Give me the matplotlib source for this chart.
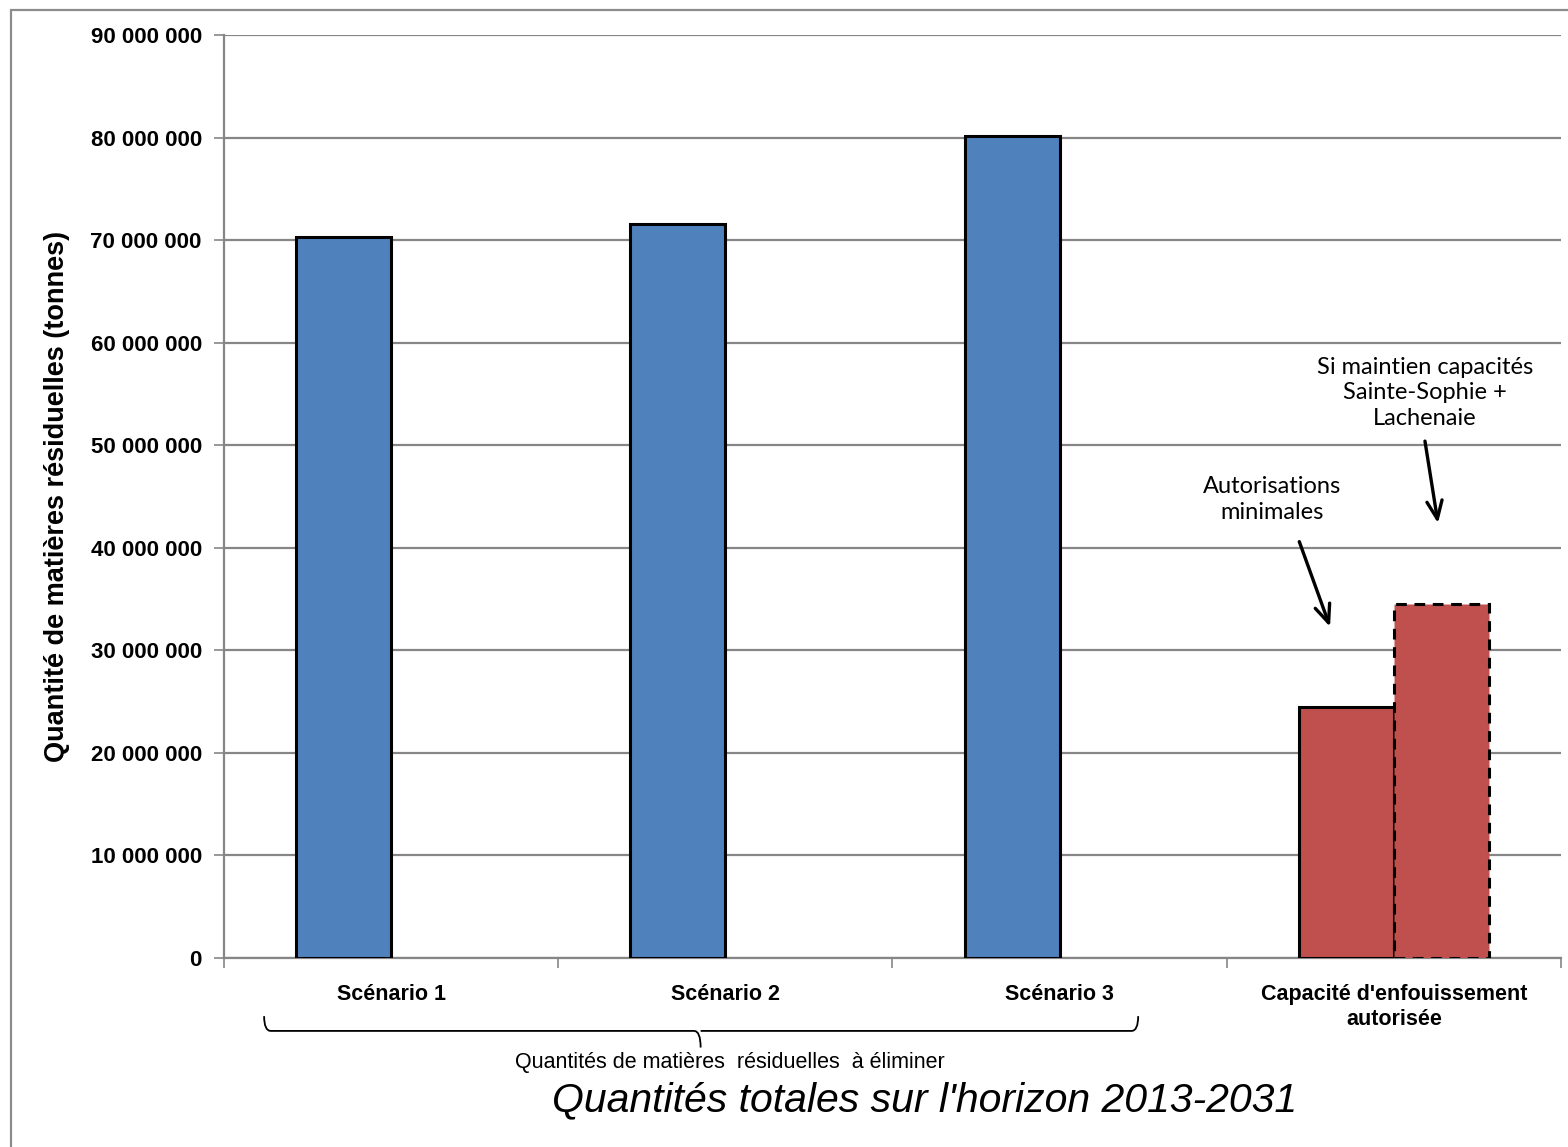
import matplotlib

matplotlib.use("Agg")
import matplotlib.pyplot as plt  # noqa: E402
from matplotlib.patches import Rectangle  # noqa: E402
from matplotlib.path import Path  # noqa: E402
from matplotlib.patches import PathPatch  # noqa: E402
import matplotlib.transforms as mtransforms  # noqa: E402
import numpy as np  # noqa: E402

# Values (tonnes, total 2013-2031)
categories = ["Scénario 1", "Scénario 2", "Scénario 3",
              "Capacité d'enfouissement\nautorisée"]
series_main = [70.3e6, 71.6e6, 80.2e6, 24.5e6]    # solid outline
series_extra = [np.nan, np.nan, np.nan, 34.5e6]   # dashed outline (maintien capacités)
bar_colors = ["#4F81BD", "#4F81BD", "#4F81BD", "#C0504D"]
extra_color = "#C0504D"

yticks = np.arange(0, 90e6 + 1, 10e6)

ylabel = "Quantité de matières résiduelles (tonnes)"
brace_label = "Quantités de matières  résiduelles  à éliminer"
title = "Quantités totales sur l'horizon 2013-2031"
note_min = "Autorisations\nminimales"
note_max = "Si maintien capacités\nSainte-Sophie +\nLachenaie"

GRID = "#868686"
W = 0.284  # bar width as a fraction of one category slot

fig = plt.figure(figsize=(15.68, 11.47), dpi=100)
ax = fig.add_axes([224 / 1568, 1 - 958 / 1147, (1561 - 224) / 1568, (958 - 35) / 1147])

x = np.arange(len(categories))
ax.bar(x - W / 2, series_main, W, color=bar_colors, edgecolor="black",
       linewidth=2.2, zorder=3)
ax.bar(x + W / 2, series_extra, W, color=extra_color, edgecolor="black",
       linewidth=2.2, linestyle=(0, (3.5, 2.5)), zorder=3)

ax.set_xlim(-0.5, len(categories) - 0.5)
ax.set_ylim(0, 90e6)
ax.set_yticks(yticks)
ax.set_yticklabels([f"{v:,.0f}".replace(",", " ") for v in yticks],
                   fontsize=16, fontweight="bold", family="Liberation Sans")
ax.yaxis.grid(True, color=GRID, linewidth=1.6, zorder=0)
ax.set_axisbelow(True)
ax.tick_params(axis="y", length=7, width=1.2, color=GRID, pad=9)

# category boundaries carry the ticks, the centres carry the labels
ax.set_xticks(np.arange(len(categories) + 1) - 0.5)
ax.set_xticklabels([])
ax.set_xticks(x, minor=True)
ax.set_xticklabels(categories, minor=True, fontsize=15.5, fontweight="bold",
                   family="Liberation Sans", linespacing=1.2, va="top")
ax.tick_params(axis="x", which="major", length=7, width=1.2, color=GRID)
ax.tick_params(axis="x", which="minor", length=0, pad=19)

for side in ("top", "right"):
    ax.spines[side].set_visible(False)
for side in ("left", "bottom"):
    ax.spines[side].set_color(GRID)
    ax.spines[side].set_linewidth(1.6)

ax.set_ylabel(ylabel, fontsize=19.5, fontweight="bold", family="Liberation Sans")
ax.yaxis.set_label_coords(-0.115, 0.5)

# curly brace under the three scenarios
bt = mtransforms.blended_transform_factory(ax.transData, ax.transAxes)
xl, xr, xm = -0.380, 2.235, 0.926
y0, y1, y2 = -0.063, -0.079, -0.097
verts = [(xl, y0), (xl, y1), (xl + 0.02, y1), (xm - 0.02, y1), (xm, y1), (xm, y2),
         (xm, y1), (xm + 0.02, y1), (xr - 0.02, y1), (xr, y1), (xr, y0)]
codes = [Path.MOVETO, Path.CURVE3, Path.CURVE3, Path.LINETO, Path.CURVE3, Path.CURVE3,
         Path.MOVETO, Path.LINETO, Path.LINETO, Path.CURVE3, Path.CURVE3]
ax.add_patch(PathPatch(Path(verts, codes), transform=bt, fill=False,
                       edgecolor="black", linewidth=1.3, clip_on=False))
ax.text(1.013, -0.113, brace_label, transform=bt, ha="center", va="center",
        fontsize=15.5, family="Liberation Sans")

fig.text(925 / 1568, 1 - 1100 / 1147, title, ha="center", va="center",
         fontsize=29.5, style="italic", family="Liberation Sans")

# annotations with arrows
ax.text(2.636, 44.7e6, note_min, ha="center", va="center", fontsize=17,
        family="Lato", linespacing=1.25)
ax.text(3.093, 55.1e6, note_max, ha="center", va="center", fontsize=17,
        family="Lato", linespacing=1.25)
arrow = dict(arrowstyle="->,head_length=1.3,head_width=0.55", color="black",
             linewidth=2.4, shrinkA=0, shrinkB=0)
ax.annotate("", xy=(2.809, 32.3e6), xytext=(2.717, 40.6e6), arrowprops=arrow)
ax.annotate("", xy=(3.132, 42.4e6), xytext=(3.093, 50.4e6), arrowprops=arrow)

# outer chart-area frame (left and top edges visible)
fig.patches.append(Rectangle((11 / 1568, -0.1), 1.5, 1.1 - 10 / 1147,
                             transform=fig.transFigure, fill=False,
                             edgecolor="#8C8C8C", linewidth=1.6))

fig.savefig("out.png", dpi=100)
